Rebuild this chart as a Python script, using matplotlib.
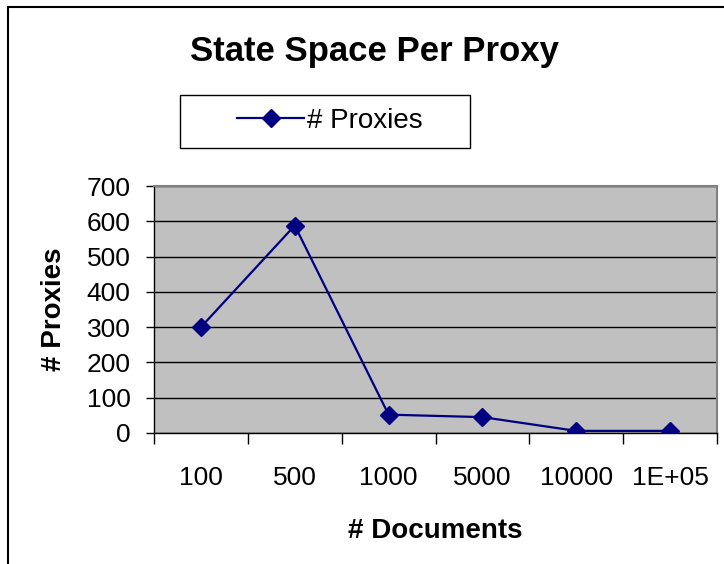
import matplotlib.pyplot as plt
from matplotlib.patches import Rectangle
from matplotlib.lines import Line2D

plt.rcParams['font.family'] = ['Liberation Sans', 'DejaVu Sans']

documents = ['100', '500', '1000', '5000', '10000', '1E+05']
proxies = [300, 588, 52, 45, 6, 6]
y_ticks = [0, 100, 200, 300, 400, 500, 600, 700]

fig = plt.figure(figsize=(7.24, 5.64), dpi=100)
ax = fig.add_axes([154 / 724, 1 - 433 / 564, 563 / 724, 247 / 564])

# outer chart border (only left/top edges visible in the crop)
fig.patches.append(Rectangle((8 / 724, -0.1), 1.2, 1 - 7 / 564 + 0.1,
                             transform=fig.transFigure, fill=False,
                             edgecolor='black', linewidth=1.5))

x = list(range(len(documents)))
ax.set_facecolor('#c0c0c0')
line, = ax.plot(x, proxies, color='#000080', linewidth=1.6, marker='D',
                markersize=9, label='# Proxies', zorder=3)

ax.set_xlim(-0.5, len(documents) - 0.5)
ax.set_ylim(0, 700)
ax.set_yticks(y_ticks)
ax.yaxis.grid(True, color='black', linewidth=1)
ax.set_axisbelow(True)

ax.set_xticks(x)
ax.set_xticklabels(documents, fontsize=19)
ax.tick_params(axis='x', length=0, pad=24)
ax.set_xticks([i - 0.5 for i in range(len(documents) + 1)], minor=True)
ax.tick_params(axis='x', which='minor', length=8, width=1, direction='out')
ax.tick_params(axis='y', labelsize=19, length=6, width=1, pad=11)

for s in ['top', 'right']:
    ax.spines[s].set_color('#808080')
    ax.spines[s].set_linewidth(1.5)
for s in ['left', 'bottom']:
    ax.spines[s].set_color('black')
    ax.spines[s].set_linewidth(1)

ax.set_xlabel('# Documents', fontsize=20, fontweight='bold', labelpad=20)
ax.set_ylabel('# Proxies', fontsize=20, fontweight='bold', labelpad=14)
fig.text(375 / 724, 1 - 52 / 564, 'State Space Per Proxy', fontsize=25,
         fontweight='bold', ha='center', va='center')

# legend box drawn by hand to match the wide Excel-style frame
fig.patches.append(Rectangle((180 / 724, 1 - 148 / 564), 290 / 724, 53 / 564,
                             transform=fig.transFigure, facecolor='white',
                             edgecolor='black', linewidth=1))
leg = fig.legend(handles=[line], loc='center',
                 bbox_to_anchor=(330 / 724, 1 - 121 / 564),
                 fontsize=20, frameon=False, handlelength=2.4,
                 borderaxespad=0, handletextpad=0.1)

fig.savefig('out.png', dpi=100)
